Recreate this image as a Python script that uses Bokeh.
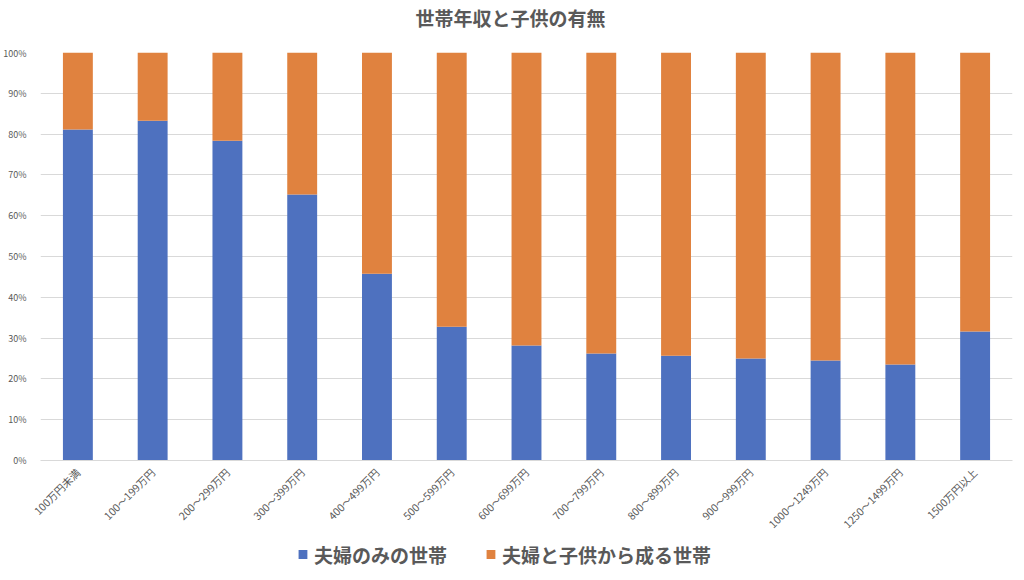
from bokeh.plotting import figure
from bokeh.layouts import column
from bokeh.models import (ColumnDataSource, FixedTicker, NumeralTickFormatter, Legend, LegendItem,
                          Range1d, FactorRange, Label)
from bokeh.embed import file_html
from bokeh.resources import INLINE
import math

categories = ["100万円未満", "100～199万円", "200～299万円", "300～399万円", "400～499万円",
              "500～599万円", "600～699万円", "700～799万円", "800～899万円", "900～999万円",
              "1000～1249万円", "1250～1499万円", "1500万円以上"]
couple_only = [0.811, 0.833, 0.784, 0.652, 0.458, 0.328, 0.282, 0.262, 0.257, 0.250, 0.245, 0.235, 0.316]
couple_children = [round(1 - v, 3) for v in couple_only]
series_names = ["夫婦のみの世帯", "夫婦と子供から成る世帯"]
title_text = "世帯年収と子供の有無"
colors = ["#4E71BF", "#E0823F"]

FONT = "Noto Sans CJK JP"
TEXT = "#595959"

source = ColumnDataSource(dict(cat=categories, a=couple_only, b=couple_children))

# title strip
tfig = figure(frame_width=1008, frame_height=46, x_range=Range1d(0, 1), y_range=Range1d(0, 1),
              output_backend="svg", toolbar_location=None, outline_line_color=None,
              min_border_left=0, min_border_right=0, min_border_top=0, min_border_bottom=0)
tfig.axis.visible = False
tfig.grid.grid_line_color = None
tfig.add_layout(Label(x=470, y=29, x_units="screen", y_units="screen", text=title_text,
                      text_font=FONT, text_font_size="19px", text_font_style="bold",
                      text_color=TEXT, text_align="center", text_baseline="middle"))

# main chart
p = figure(x_range=categories, y_range=Range1d(0, 1),
           frame_width=972, frame_height=408,
           output_backend="svg", toolbar_location=None,
           min_border_left=30, min_border_right=6, min_border_top=6, min_border_bottom=0,
           outline_line_color=None)

r = p.vbar_stack(["a", "b"], x="cat", width=0.4, color=colors, source=source, line_color=None)

p.yaxis.ticker = FixedTicker(ticks=[i / 10 for i in range(11)])
p.yaxis.formatter = NumeralTickFormatter(format="0%")
p.yaxis.axis_line_color = None
p.yaxis.major_tick_line_color = None
p.yaxis.minor_tick_line_color = None
p.yaxis.major_label_text_font = FONT
p.yaxis.major_label_text_font_size = "9px"
p.yaxis.major_label_text_color = TEXT
p.yaxis.major_label_standoff = 8

p.xaxis.axis_line_color = "#D9D9D9"
p.xaxis.major_tick_line_color = None
p.xaxis.minor_tick_line_color = None
p.xaxis.major_label_orientation = math.pi / 4
p.xaxis.major_label_text_font = FONT
p.xaxis.major_label_text_font_size = "10.5px"
p.xaxis.major_label_text_color = TEXT
p.xaxis.major_label_standoff = 4

p.xgrid.grid_line_color = None
p.ygrid.grid_line_color = "#D9D9D9"
p.x_range.range_padding = 0

# legend strip (hidden copies of the series provide the swatches)
leg = figure(frame_width=992, frame_height=30, x_range=FactorRange(*categories), y_range=Range1d(0, 1),
             output_backend="svg", toolbar_location=None, outline_line_color=None,
             min_border_left=16, min_border_right=0, min_border_top=0, min_border_bottom=0)
leg.axis.visible = False
leg.grid.grid_line_color = None
sw = leg.vbar_stack(["a", "b"], x="cat", width=0.4, color=colors, source=source, line_color=None)
for s in sw:
    s.visible = False
legend = Legend(items=[LegendItem(label=series_names[0], renderers=[sw[0]]),
                       LegendItem(label=series_names[1], renderers=[sw[1]])],
                orientation="horizontal", location="center",
                label_text_font=FONT, label_text_font_size="19px", label_text_font_style="bold",
                label_text_color=TEXT, glyph_width=11, glyph_height=11, label_standoff=6,
                spacing=38, border_line_color=None, background_fill_alpha=0, margin=0, padding=0,
                inactive_fill_alpha=0)
leg.add_layout(legend, "center")

layout = column(tfig, p, leg, spacing=0)
open("out.html", "w").write(file_html(layout, INLINE))
